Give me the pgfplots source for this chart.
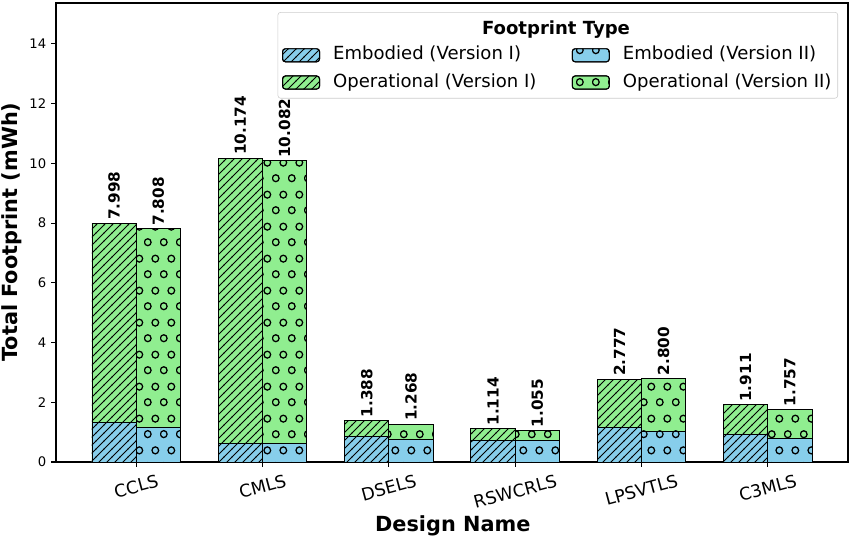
\documentclass[border=0pt]{standalone}
\usepackage{fontspec}
\setmainfont{DejaVu Sans}
\usepackage{graphicx}
\usepackage{pgfplots}
\pgfplotsset{compat=1.18}
\usetikzlibrary{patterns.meta}
\definecolor{skyblue}{RGB}{135,206,235}
\definecolor{lightgreen}{RGB}{144,238,144}

% hatch "//" for version I
\tikzdeclarepattern{
  name=hatchlines,
  type=uncolored,
  bounding box={(-0.5pt,-0.5pt) and (6.26pt,6.26pt)},
  tile size={(5.76pt,5.76pt)},
  code={
    \pgfsetlinewidth{0.7pt}
    \pgfpathmoveto{\pgfqpoint{-0.5pt}{-0.5pt}}
    \pgfpathlineto{\pgfqpoint{6.26pt}{6.26pt}}
    \pgfusepath{stroke}
  }
}
% hatch "o" for version II
\tikzdeclarepattern{
  name=hatchcircles,
  type=uncolored,
  bounding box={(0pt,0pt) and (11.52pt,23.04pt)},
  tile size={(11.52pt,23.04pt)},
  code={
    \pgfsetlinewidth{0.95pt}
    \pgfpathcircle{\pgfqpoint{2.88pt}{5.76pt}}{2.55pt}
    \pgfpathcircle{\pgfqpoint{8.64pt}{17.28pt}}{2.55pt}
    \pgfusepath{stroke}
  }
}

\pgfplotsset{
  embI/.style={fill=skyblue, draw=black, line width=0.7pt, postaction={pattern=hatchlines, pattern color=black}},
  opI/.style={fill=lightgreen, draw=black, line width=0.7pt, postaction={pattern=hatchlines, pattern color=black}},
  embII/.style={fill=skyblue, draw=black, line width=0.7pt, postaction={pattern=hatchcircles, pattern color=black}},
  opII/.style={fill=lightgreen, draw=black, line width=0.7pt, postaction={pattern=hatchcircles, pattern color=black}},
  legbox/.style={legend image code/.code={\draw[##1] (0pt,-4.7pt) rectangle (26.6pt,4.7pt);}},
}

\begin{document}
\begin{tikzpicture}
\begin{axis}[
    scale only axis, width=570.24pt, height=330.48pt,
    xmin=-0.635, xmax=5.635, ymin=0, ymax=15.37,
    ybar, bar width=0.35,
    xtick={0,1,2,3,4,5},
    xticklabels={\rotatebox{15}{CCLS},\rotatebox{15}{CMLS},\rotatebox{15}{DSELS},\rotatebox{15}{RSWCRLS},\rotatebox{15}{LPSVTLS},\rotatebox{15}{C3MLS}},
    ytick={0,2,4,6,8,10,12,14},
    xtick pos=left, ytick pos=left, tick align=outside,
    major tick length=3.5pt,
    every tick/.style={black, line width=0.8pt},
    axis line style={line width=0.8pt},
    /pgf/number format/assume math mode=true,
    yticklabel style={font=\fontsize{9.5}{11}\selectfont},
    xticklabel style={font=\fontsize{12.5}{15}\selectfont, anchor=north, inner sep=0pt, yshift=-5pt},
    xlabel={Design Name}, ylabel={Total Footprint (mWh)},
    xlabel style={font=\bfseries\fontsize{15}{18}\selectfont, at={(rel axis cs:0.501,0)}, anchor=center, yshift=-46pt},
    ylabel style={font=\bfseries\fontsize{15}{18}\selectfont, at={(rel axis cs:0,0.501)}, anchor=center, yshift=31.5pt},
    point meta=explicit symbolic,
    every node near coord/.append style={rotate=90, anchor=west, inner sep=2pt, font=\bfseries\fontsize{11}{13}\selectfont},
    legend columns=2,
    legend style={at={(0.9874,0.9804)}, anchor=north east,
      draw=black!20, rounded corners=2pt, inner xsep=3pt, inner ysep=3.5pt,
      font=\fontsize{13}{15.6}\selectfont,
      nodes={inner sep=1.5pt, text height=9.7pt, text depth=3pt},
      row sep=3.9pt, column sep=8pt,
      /tikz/every even column/.append style={column sep=24pt}},
    legend cell align=left,
]
% legend: title row kept free, then entries
\addlegendimage{empty legend}\addlegendentry{}
\addlegendimage{empty legend}\addlegendentry{}
\addlegendimage{embI, legbox}\addlegendentry{Embodied (Version I)}
\addlegendimage{embII, legbox}\addlegendentry{Embodied (Version II)}
\addlegendimage{opI, legbox}\addlegendentry{Operational (Version I)}
\addlegendimage{opII, legbox}\addlegendentry{Operational (Version II)}

% total footprint (operational on top of embodied)
\addplot[opI, bar shift=-0.175, forget plot, nodes near coords] coordinates {
(0,7.998)[7.998] (1,10.174)[10.174] (2,1.388)[1.388] (3,1.114)[1.114] (4,2.777)[2.777] (5,1.911)[1.911]};
\addplot[opII, bar shift=0.175, forget plot, nodes near coords] coordinates {
(0,7.808)[7.808] (1,10.082)[10.082] (2,1.268)[1.268] (3,1.055)[1.055] (4,2.800)[2.800] (5,1.757)[1.757]};
% embodied part
\addplot[embI, bar shift=-0.175, forget plot] coordinates {
(0,1.31) (1,0.63) (2,0.85) (3,0.71) (4,1.15) (5,0.93)};
\addplot[embII, bar shift=0.175, forget plot] coordinates {
(0,1.16) (1,0.63) (2,0.77) (3,0.71) (4,1.02) (5,0.78)};
\end{axis}
\node[font=\bfseries\fontsize{13}{15.6}\selectfont] at ([xshift=360pt,yshift=-19.2pt]current axis.north west) {Footprint Type};
\pgfresetboundingbox
\path[use as bounding box] ([xshift=-40.32pt,yshift=-54pt]current axis.south west) rectangle ([xshift=3.6pt,yshift=2.16pt]current axis.north east);
\end{tikzpicture}
\end{document}
